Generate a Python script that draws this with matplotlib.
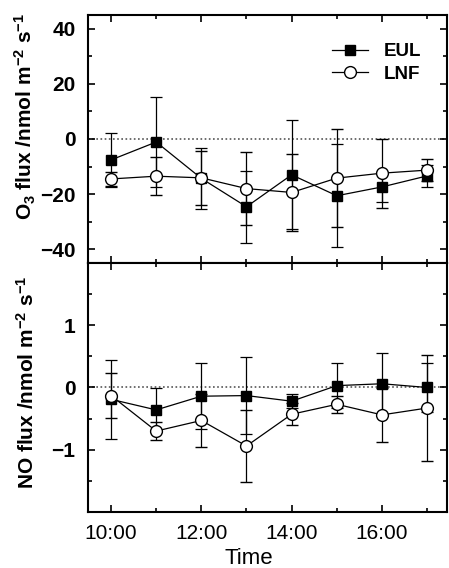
import numpy as np
import matplotlib
matplotlib.use("Agg")
import matplotlib.pyplot as plt
from matplotlib.lines import Line2D
from matplotlib.ticker import MultipleLocator, FixedLocator, FixedFormatter

plt.rcParams['font.family'] = ['Liberation Sans', 'DejaVu Sans']
plt.rcParams['mathtext.default'] = 'regular'

hours = [10, 11, 12, 13, 14, 15, 16, 17]
time_ticks = [10, 12, 14, 16]
time_labels = ['10:00', '12:00', '14:00', '16:00']

# O3 flux (nmol m-2 s-1)
o3_eul = [-7.6, -1.1, -14.3, -24.6, -13.0, -20.6, -17.4, -13.4]
o3_eul_err = [9.8, 16.5, 11.0, 13.0, 19.8, 18.7, 5.4, 4.0]
o3_lnf = [-14.5, -13.5, -14.1, -18.0, -19.4, -14.2, -12.4, -11.3]
o3_lnf_err = [2.5, 7.0, 9.8, 13.3, 14.0, 17.7, 12.5, 3.9]

# NO flux (nmol m-2 s-1)
no_eul = [-0.19, -0.36, -0.14, -0.13, -0.22, 0.03, 0.06, 0.0]
no_eul_err = [0.63, 0.35, 0.53, 0.62, 0.11, 0.36, 0.50, 0.40]
no_lnf = [-0.13, -0.70, -0.53, -0.94, -0.43, -0.27, -0.44, -0.33]
no_lnf_err = [0.36, 0.14, 0.43, 0.58, 0.18, 0.14, 0.43, 0.85]

fig = plt.figure(figsize=(4.49, 5.68), dpi=100)
ax1 = fig.add_axes([0.196, 0.537, 0.7995, 0.4366])
ax2 = fig.add_axes([0.196, 0.0986, 0.7995, 0.4384])

ytick_font = {'family': ['Liberation Sans Narrow', 'Liberation Sans'],
              'weight': 'bold', 'size': 15}

def draw(ax, eul, eul_err, lnf, lnf_err):
    ax.axhline(0, color='#555555', lw=1.2, ls=(0, (1, 1.5)), zorder=1)
    ax.errorbar(hours, eul, yerr=eul_err, color='black', lw=0.9, elinewidth=0.9,
                capsize=4, capthick=0.9, marker='s', ms=7.5, mfc='black',
                mec='black', zorder=3)
    ax.errorbar(hours, lnf, yerr=lnf_err, color='black', lw=0.9, elinewidth=0.9,
                capsize=4, capthick=0.9, marker='o', ms=8.5, mfc='white',
                mec='black', mew=1.0, zorder=4)
    ax.set_xlim(9.49, 17.44)
    ax.xaxis.set_major_locator(FixedLocator(time_ticks))
    ax.xaxis.set_minor_locator(MultipleLocator(1))
    ax.tick_params(which='both', direction='in', top=True, right=True, width=1.2)
    ax.tick_params(which='major', length=5)
    ax.tick_params(which='minor', length=3)
    ax.tick_params(axis='y', pad=9)
    ax.tick_params(axis='x', pad=9, labelsize=15)
    for s in ax.spines.values():
        s.set_linewidth(1.5)

draw(ax1, o3_eul, o3_eul_err, o3_lnf, o3_lnf_err)
ax1.set_ylim(-45, 45)
ax1.yaxis.set_minor_locator(MultipleLocator(10))
ax1.tick_params(labelbottom=False)
ax1.set_yticks([-40, -20, 0, 20, 40])
ax1.set_yticklabels(['\u221240', '\u221220', '0', '20', '40'], fontdict=ytick_font)
ax1.set_ylabel('O$_3$ flux /nmol m$^{-2}$ s$^{-1}$', fontsize=15, fontweight='bold')
ax1.yaxis.set_label_coords(-0.14, 0.59)
handles = [Line2D([], [], color='black', lw=0.9, marker='s', ms=7.5, mfc='black'),
           Line2D([], [], color='black', lw=0.9, marker='o', ms=8.5, mfc='white')]
ax1.legend(handles, ['EUL', 'LNF'], loc='upper right', bbox_to_anchor=(0.975, 0.955),
           frameon=False, prop={'weight': 'bold', 'size': 13.5}, handlelength=1.9,
           handletextpad=0.85, labelspacing=0.3)

draw(ax2, no_eul, no_eul_err, no_lnf, no_lnf_err)
ax2.set_ylim(-2, 2)
ax2.yaxis.set_minor_locator(MultipleLocator(0.5))
ax2.set_yticks([-1, 0, 1])
ax2.set_yticklabels(['\u22121', '0', '1'], fontdict=ytick_font)
ax2.xaxis.set_major_formatter(FixedFormatter(time_labels))
ax2.set_ylabel('NO flux /nmol m$^{-2}$ s$^{-1}$', fontsize=15, fontweight='bold')
ax2.yaxis.set_label_coords(-0.14, 0.52)
ax2.set_xlabel('Time', fontsize=16)
ax2.xaxis.set_label_coords(0.448, -0.143)

fig.savefig('out.png', dpi=100)
